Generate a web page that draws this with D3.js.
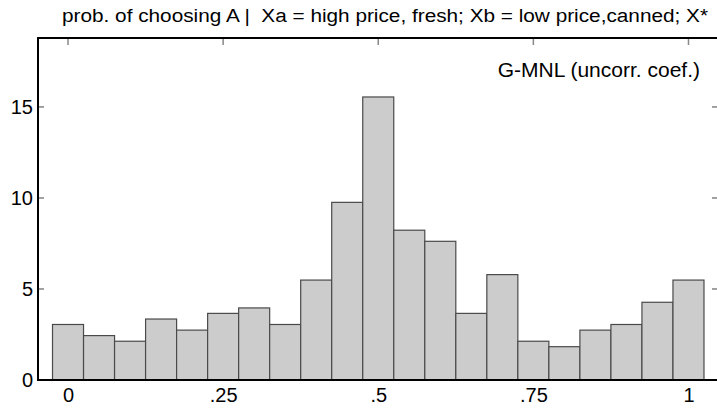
<!DOCTYPE html>
<html>
<head>
<meta charset="utf-8">
<script src="https://cdn.jsdelivr.net/npm/d3@7"></script>
<style>
  body { margin: 0; background: #fff; }
  svg { display: block; font-family: "Liberation Sans", Arial, Helvetica, sans-serif; }
</style>
</head>
<body>
<div id="chart"></div>
<script>
// bin centres and percent heights
var binCenters = [0, .05, .1, .15, .2, .25, .3, .35, .4, .45, .5, .55, .6, .65, .7, .75, .8, .85, .9, .95, 1];
var percents = [3.05, 2.44, 2.13, 3.35, 2.74, 3.66, 3.96, 3.05, 5.49, 9.76, 15.55, 8.23, 7.62, 3.66, 5.79, 2.13, 1.83, 2.74, 3.05, 4.27, 5.49];
var binWidth = 0.05;
var xTicks = [0, .25, .5, .75, 1];
var xTickLabels = ["0", ".25", ".5", ".75", "1"];
var yTicks = [0, 5, 10, 15];
var titleText = "prob. of choosing A |  Xa = high price, fresh; Xb = low price,canned; X*";
var noteText = "G-MNL (uncorr. coef.)";

var W = 717, H = 410;
var plotL = 37, plotR = 719.5, plotT = 38, plotB = 380;

var svg = d3.select("#chart").append("svg")
    .attr("width", W)
    .attr("height", H);

var x = d3.scaleLinear().domain([-0.05, 1.05]).range([plotL, plotR]);
var y = d3.scaleLinear().domain([0, 18.79]).range([plotB, plotT]);

// bars
svg.append("g").selectAll("rect")
    .data(binCenters)
    .enter().append("rect")
    .attr("x", function(d) { return x(d - binWidth / 2); })
    .attr("width", function(d) { return x(d + binWidth / 2) - x(d - binWidth / 2); })
    .attr("y", function(d, i) { return y(percents[i]); })
    .attr("height", function(d, i) { return y(0) - y(percents[i]); })
    .style("fill", "#cccccc")
    .style("stroke", "#4a4a4a")
    .style("stroke-width", 1.2);

// left axis labels
var yAxis = svg.append("g")
    .attr("transform", "translate(" + (plotL + 1) + ",0)")
    .call(d3.axisLeft(y).tickValues(yTicks).tickSize(0).tickPadding(5));
yAxis.select(".domain").remove();
yAxis.selectAll("text").style("font-size", "20px").style("fill", "#000")
    .attr("font-family", null);

// left ticks, inward
svg.append("g").selectAll("line")
    .data(yTicks.slice(1))
    .enter().append("line")
    .attr("x1", plotL + 1).attr("x2", plotL + 7)
    .attr("y1", function(d) { return y(d); }).attr("y2", function(d) { return y(d); })
    .style("stroke", "#444").style("stroke-width", 1);

// right axis ticks, inward
svg.append("g").selectAll("line")
    .data(yTicks.slice(1))
    .enter().append("line")
    .attr("x1", 712).attr("x2", W)
    .attr("y1", function(d) { return y(d); }).attr("y2", function(d) { return y(d); })
    .style("stroke", "#444").style("stroke-width", 1);

// top ticks, inward
svg.append("g").selectAll("line")
    .data(xTicks)
    .enter().append("line")
    .attr("x1", function(d) { return x(d); }).attr("x2", function(d) { return x(d); })
    .attr("y1", plotT).attr("y2", plotT + 7)
    .style("stroke", "#888").style("stroke-width", 1.5);

// bottom labels
var xAxis = svg.append("g")
    .attr("transform", "translate(0," + plotB + ")")
    .call(d3.axisBottom(x).tickValues(xTicks)
        .tickFormat(function(d, i) { return xTickLabels[i]; })
        .tickSize(0).tickPadding(8));
xAxis.select(".domain").remove();
xAxis.selectAll("text").style("font-size", "20px").style("fill", "#000")
    .attr("font-family", null);

// frame lines
svg.append("line").attr("x1", plotL + 1).attr("x2", plotL + 1).attr("y1", plotT).attr("y2", plotB)
    .style("stroke", "#000").style("stroke-width", 2);
svg.append("line").attr("x1", plotL).attr("x2", W).attr("y1", plotT).attr("y2", plotT)
    .style("stroke", "#000").style("stroke-width", 2);
svg.append("line").attr("x1", plotL).attr("x2", W).attr("y1", plotB).attr("y2", plotB)
    .style("stroke", "#000").style("stroke-width", 2);

// title and note
svg.append("text")
    .attr("x", 62).attr("y", 22)
    .attr("textLength", 646)
    .attr("lengthAdjust", "spacingAndGlyphs")
    .style("font-size", "18px")
    .style("white-space", "pre")
    .text(titleText);

svg.append("text")
    .attr("x", 700).attr("y", 77)
    .attr("text-anchor", "end")
    .style("font-size", "21px")
    .text(noteText);
</script>
</body>
</html>
